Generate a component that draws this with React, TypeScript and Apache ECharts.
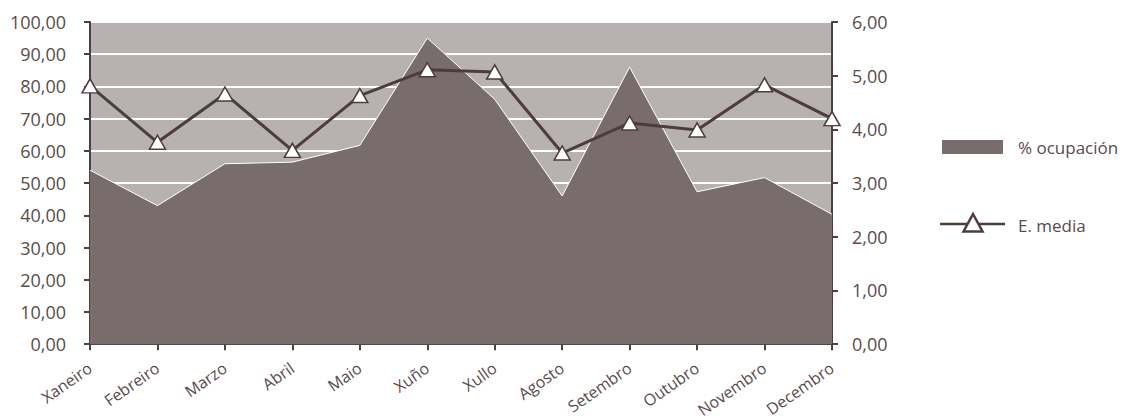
import React, { useEffect, useRef } from "react";
import * as echarts from "echarts";

const months = ["Xaneiro", "Febreiro", "Marzo", "Abril", "Maio", "Xuño", "Xullo", "Agosto", "Setembro", "Outubro", "Novembro", "Decembro"];
const ocupacion = [54, 43, 56, 56.5, 61.7, 95, 76, 46, 86, 47.3, 51.7, 40.3];
const estadiaMedia = [4.81, 3.76, 4.66, 3.61, 4.63, 5.11, 5.07, 3.56, 4.12, 3.99, 4.83, 4.2];
const seriesNames = ["% ocupación", "E. media"];

const fmt = (v: number) => v.toFixed(2).replace(".", ",");
const textColor = "#5a4b4c";
const axisColor = "#4e3e3f";
const areaColor = "#786c6d";
const lineColor = "#4e3c3d";

export default function App() {
  const ref = useRef<HTMLDivElement>(null);
  useEffect(() => {
    const chart = echarts.init(ref.current!, null, { renderer: "svg" });
    chart.setOption({
      animation: false,
      textStyle: { fontFamily: "Open Sans" },
      grid: {
        left: 90, right: 295, top: 22, bottom: 74,
        show: true, backgroundColor: "#b8b1b1", borderWidth: 0,
      },
      graphic: [
        { type: "rect", shape: { x: 942, y: 140, width: 61, height: 14 }, style: { fill: areaColor } },
        {
          type: "text", x: 1018, y: 147,
          style: { text: seriesNames[0], fill: textColor, fontSize: 17, fontFamily: "Open Sans", verticalAlign: "middle" },
        },
        { type: "line", shape: { x1: 940, y1: 224, x2: 1005, y2: 224 }, style: { stroke: lineColor, lineWidth: 2.5 } },
        {
          type: "polygon",
          shape: { points: [[973, 214], [963.5, 231.5], [982.5, 231.5]] },
          style: { fill: "#ffffff", stroke: lineColor, lineWidth: 2.5 },
        },
        {
          type: "text", x: 1018, y: 225,
          style: { text: seriesNames[1], fill: textColor, fontSize: 17, fontFamily: "Open Sans", verticalAlign: "middle" },
        },
      ],
      xAxis: {
        type: "category",
        data: months,
        boundaryGap: false,
        axisLine: { lineStyle: { color: axisColor, width: 2 } },
        axisTick: { show: true, length: 6, lineStyle: { color: axisColor, width: 2 } },
        axisLabel: { color: textColor, fontSize: 16, rotate: 35, margin: 22, interval: 0 },
      },
      yAxis: [
        {
          type: "value", min: 0, max: 100, interval: 10,
          axisLine: { show: true, lineStyle: { color: axisColor, width: 2 } },
          axisTick: { show: true, length: 6, lineStyle: { color: axisColor, width: 2 } },
          axisLabel: { color: textColor, fontSize: 18, margin: 24, formatter: fmt },
          splitLine: { show: true, lineStyle: { color: "#ffffff", width: 2 } },
        },
        {
          type: "value", min: 0, max: 6, interval: 1,
          axisLine: { show: true, lineStyle: { color: axisColor, width: 2 } },
          axisTick: { show: true, length: 6, lineStyle: { color: axisColor, width: 2 } },
          axisLabel: { color: textColor, fontSize: 18, margin: 20, formatter: fmt },
          splitLine: { show: false },
        },
      ],
      series: [
        {
          name: seriesNames[0],
          type: "line",
          data: ocupacion,
          yAxisIndex: 0,
          showSymbol: false,
          symbol: "none",
          lineStyle: { color: "#ffffff", width: 1 },
          itemStyle: { color: areaColor },
          areaStyle: { color: areaColor, opacity: 1 },
          z: 1,
        },
        {
          name: seriesNames[1],
          type: "line",
          data: estadiaMedia,
          yAxisIndex: 1,
          symbol: "triangle",
          symbolSize: [16, 14],
          lineStyle: { color: lineColor, width: 3 },
          itemStyle: { color: "#ffffff", borderColor: lineColor, borderWidth: 1.5 },
          z: 3,
        },
      ],
    });
    return () => chart.dispose();
  }, []);
  return <div ref={ref} style={{ width: 1127, height: 420, position: "absolute", left: 0, top: 0 }} />;
}
